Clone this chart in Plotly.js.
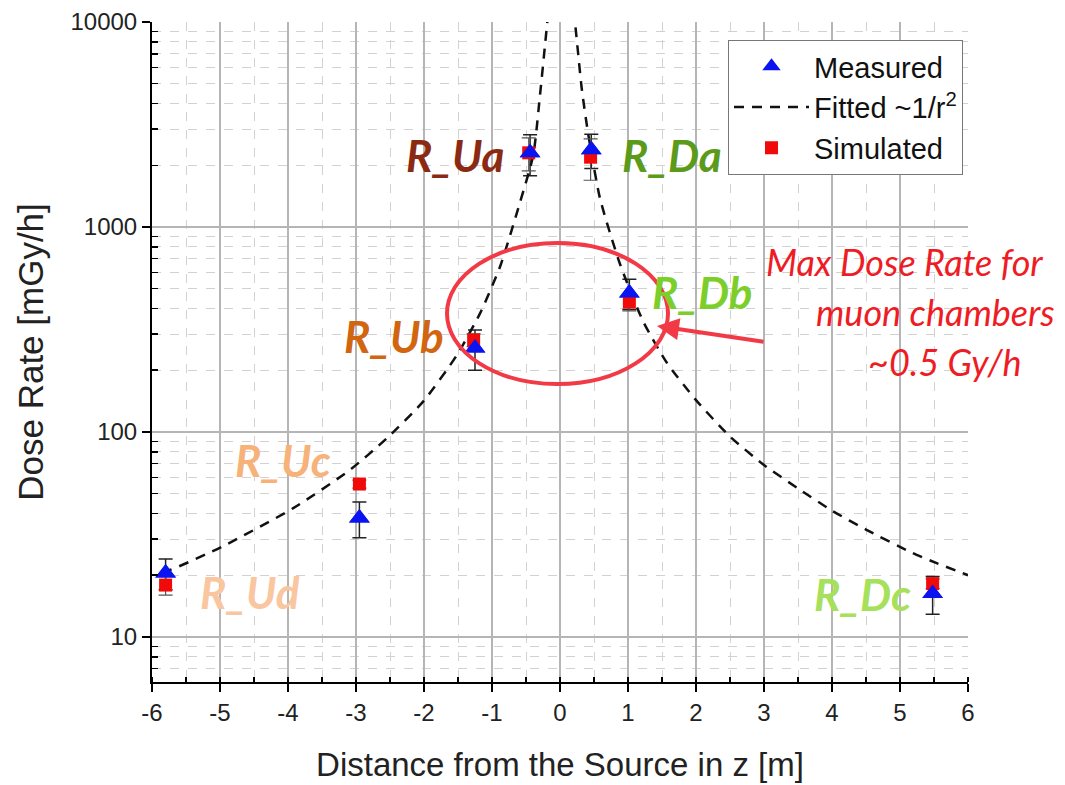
<!DOCTYPE html>
<html>
<head>
<meta charset="utf-8">
<script src="https://cdn.plot.ly/plotly-3.0.1.min.js"></script>
<style>html,body{margin:0;padding:0;background:#fff;}#chart{width:1065px;height:785px;}</style>
</head>
<body>
<div id="chart"></div>
<script>
// ---- data ----
const measX = [-5.80, -2.95, -1.25, -0.44, 0.46, 1.02, 5.48];
const measY = [20.5, 38, 257, 2300, 2380, 476, 16.3];
const measErr = [3.5, 7.5, 57, 520, 450, 80, 3.4];

const simX = [-5.80, -2.95, -1.27, -0.46, 0.45, 1.02, 5.48];
const simY = [17.9, 55.7, 281, 2300, 2190, 430, 18.2];
const simErr = [1.9, 2.5, 20, 420, 500, 40, 1.0];

// fitted ~1/r^2 curve (left and right branch)
const fitLeftX = [-5.85, -5.735, -4.975, -3.922, -3.088, -2.549, -2.01, -1.52, -1.176, -0.882, -0.588, -0.393, -0.294, -0.196, -0.17];
const fitLeftY = [20.8, 21.2, 27.5, 42.5, 65.3, 93, 141, 236, 379, 640, 1320, 2244, 4406, 9315, 11500];
const fitRightX = [0.19, 0.221, 0.319, 0.417, 0.588, 0.882, 1.225, 1.569, 2.0, 2.5, 3.0, 3.5, 4.0, 4.5, 5.19, 5.54, 6.0];
const fitRightY = [11500, 9860, 4754, 2812, 1380, 660, 345, 218, 143, 95, 69, 53, 41.3, 33.4, 25.6, 22.9, 20];

const xTickVals = [-6, -5, -4, -3, -2, -1, 0, 1, 2, 3, 4, 5, 6];
const xTickText = ['-6', '-5', '-4', '-3', '-2', '-1', '0', '1', '2', '3', '4', '5', '6'];
const yTickVals = [10, 100, 1000, 10000];
const yTickText = ['10', '100', '1000', '10000'];

const labelTexts = ['R_Ua', 'R_Da', 'R_Ub', 'R_Db', 'R_Uc', 'R_Ud', 'R_Dc'];
const labelColors = ['#8b2a12', '#5c9a1c', '#d2650f', '#7ccf2b', '#f7b27a', '#fac6a0', '#a7e05a'];
const noteLines = ['Max Dose Rate for', 'muon chambers', '~0.5 Gy/h'];

// ---- layout helpers (pixel -> paper) ----
const L = 152, R = 968, T = 22, B = 682;
const px = x => (x - L) / (R - L);
const py = y => 1 - (y - T) / (B - T);

const labelPos = [[455, 155], [672, 155], [394, 336], [702, 292], [283, 460], [250, 592], [862, 594]];
const notePos = [[904, 262], [935, 312], [945, 362]];

const minorY = [];
for (let d = 1; d <= 1000; d *= 10) for (let k = 2; k <= 9; k++) minorY.push(k * d);

const fitX = fitLeftX.concat([null], fitRightX);
const fitY = fitLeftY.concat([null], fitRightY);

const traces = [
  {
    x: measX, y: measY, type: 'scatter', mode: 'markers', name: 'Measured', legendgroup: 'a',
    marker: {symbol: 'triangle-up', size: 18, color: '#0a14f0'},
    error_y: {type: 'data', array: measErr, visible: true, color: '#222', thickness: 1.5, width: 7}
  },
  {
    x: fitX, y: fitY, type: 'scatter', mode: 'lines', name: 'Fitted ~1/r<sup>2</sup>', legendgroup: 'b',
    line: {color: '#111', width: 2.5, dash: '10px,8px', shape: 'spline', smoothing: 0.6},
    connectgaps: false
  },
  {
    x: simX, y: simY, type: 'scatter', mode: 'markers', name: 'Simulated', legendgroup: 'c',
    marker: {symbol: 'square', size: 13, color: '#f00a0a'},
    error_y: {type: 'data', array: simErr, visible: true, color: '#555', thickness: 1.2, width: 7}
  }
];
// draw measured on top of simulated
traces.push(Object.assign({}, traces[0], {showlegend: false, error_y: {visible: false}}));

const annotations = [];
labelTexts.forEach((t, i) => {
  annotations.push({
    text: '<b><i>' + t + '</i></b>', xref: 'paper', yref: 'paper',
    x: px(labelPos[i][0]), y: py(labelPos[i][1]), xanchor: 'center', yanchor: 'middle',
    showarrow: false, font: {family: 'Lato, sans-serif', size: 44, color: labelColors[i]}
  });
});
noteLines.forEach((t, i) => {
  annotations.push({
    text: '<i>' + t + '</i>', xref: 'paper', yref: 'paper',
    x: px(notePos[i][0]), y: py(notePos[i][1]), xanchor: 'center', yanchor: 'middle',
    showarrow: false, font: {family: 'Lato, sans-serif', size: 36, color: '#ee1c24'}
  });
});
annotations.push({
  text: '', xref: 'paper', yref: 'paper', x: px(657), y: py(326),
  ax: 108, ay: 16, showarrow: true, arrowhead: 2, arrowsize: 1.1, arrowwidth: 4,
  arrowcolor: '#f23a46', standoff: 0
});

const layout = {
  width: 1065, height: 785,
  margin: {l: L, r: 1065 - R, t: T, b: 785 - B, pad: 0},
  paper_bgcolor: '#fff', plot_bgcolor: '#fff',
  font: {family: 'Liberation Sans, Arial, sans-serif', color: '#222'},
  showlegend: true,
  legend: {
    x: px(728), y: py(40), xanchor: 'left', yanchor: 'top',
    bgcolor: '#fff', bordercolor: '#777', borderwidth: 1,
    font: {size: 29, color: '#111'}, traceorder: 'grouped', tracegroupgap: 0,
    itemwidth: 75
  },
  xaxis: {
    range: [-6, 6], tickvals: xTickVals, ticktext: xTickText,
    showline: true, linecolor: '#000', linewidth: 2,
    ticks: 'outside', ticklen: 8, tickwidth: 2, tickcolor: '#000',
    tickfont: {size: 24, color: '#222'},
    showgrid: true, gridcolor: '#b5b5b5', gridwidth: 1.2, zeroline: false,
    minor: {dtick: 0.5, tick0: 0, ticks: 'inside', ticklen: 5, tickwidth: 1.5, tickcolor: '#000', showgrid: true, gridcolor: '#d2d2d2', griddash: 'dash', gridwidth: 1},
    title: {text: 'Distance from the Source in z [m]', font: {size: 33, color: '#222'}, standoff: 28}
  },
  yaxis: {
    type: 'log', range: [0.78, 4],
    tickvals: yTickVals, ticktext: yTickText,
    showline: true, linecolor: '#000', linewidth: 2,
    ticks: 'outside', ticklen: 8, tickwidth: 2, tickcolor: '#000',
    tickfont: {size: 24, color: '#222'},
    showgrid: true, gridcolor: '#b5b5b5', gridwidth: 1.2, zeroline: false,
    minor: {tickvals: minorY, ticks: 'inside', ticklen: 6, tickwidth: 1.5, tickcolor: '#000', showgrid: true, gridcolor: '#d2d2d2', griddash: 'dash', gridwidth: 1},
    title: {text: 'Dose Rate [mGy/h]', font: {size: 35, color: '#222'}, standoff: 16}
  },
  shapes: [{
    type: 'circle', xref: 'paper', yref: 'paper',
    x0: px(447), x1: px(668), y0: py(384), y1: py(243),
    line: {color: '#f23a46', width: 4}
  }],
  annotations: annotations
};

Plotly.newPlot('chart', traces, layout, {displayModeBar: false, staticPlot: true});
</script>
</body>
</html>
